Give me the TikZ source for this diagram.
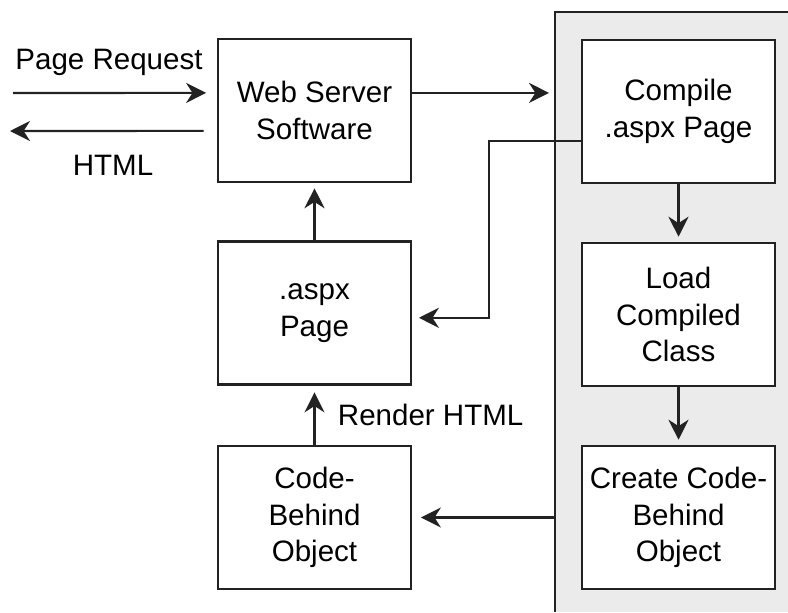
\documentclass[tikz,border=0pt]{standalone}
\usepackage{fontspec}
\setmainfont{Liberation Sans}
\usetikzlibrary{arrows.meta}
\definecolor{panelgray}{HTML}{EBEBEB}
\definecolor{linegray}{HTML}{222222}
\begin{document}
\begin{tikzpicture}[x=0.025cm, y=-0.025cm,
  every node/.style={font=\fontsize{21}{26}\selectfont},
  stepbox/.style={draw=linegray,line width=1.5pt,fill=white,minimum width=4.825cm,minimum height=3.575cm,align=center,inner sep=2pt},
  arr/.style={-{Stealth[length=0.5cm,width=0.5cm,inset=0.16cm]},line width=1.5pt,draw=linegray}]
\useasboundingbox (0,0) rectangle (788,612);
% shaded runtime panel
\fill[panelgray] (555,12) rectangle (788,612);
\draw[linegray,line width=1.5pt] (788,12) -- (555,12) -- (555,612);
\coordinate (panel) at (555,12);
\coordinate (reqin) at (13,93);
\coordinate (htmlout) at (10,131);
% left column
\node[stepbox] (web) at (314.5,110.5) {Web Server\\Software};
\node[stepbox] (aspx) at (314.5,313) {.aspx\\Page};
\node[stepbox] (code) at (314.5,517.5) {Code-\\Behind\\Object};
% right column
\node[stepbox] (compile) at (678.5,111.5) {Compile\\.aspx Page};
\node[stepbox] (load) at (678.5,314.5) {Load\\Compiled\\Class};
\node[stepbox] (create) at (678.5,517.5) {Create Code-\\Behind\\Object};
% request and response
\draw[arr,shorten >=0.27cm] (reqin) -- ([yshift=0.44cm]web.west);
\node at (109,62) {Page Request};
\draw[arr,shorten <=0.33cm] ([yshift=-0.51cm]web.west) -- (htmlout);
\node at (113,165) {HTML};
% connectors
\draw[arr,shorten >=0.15cm] ([yshift=0.44cm]web.east) -- ([yshift=0.44cm]web.east -| panel);
\draw[arr,shorten >=0.17cm] ([yshift=-0.74cm]compile.west) -- ++(-92,0) |- ([yshift=-0.12cm]aspx.east);
\draw[arr,shorten >=0.13cm] (compile.south) -- (load.north);
\draw[arr,shorten >=0.13cm] (load.south) -- (create.north);
\draw[arr,shorten >=0.22cm] (code.east -| panel) -- (code.east);
\draw[arr,shorten >=0.13cm] (aspx.north) -- (web.south);
\draw[arr,shorten >=0.17cm] (code.north) -- (aspx.south);
\node[anchor=west] at (333,415) {Render HTML};
\end{tikzpicture}
\end{document}
